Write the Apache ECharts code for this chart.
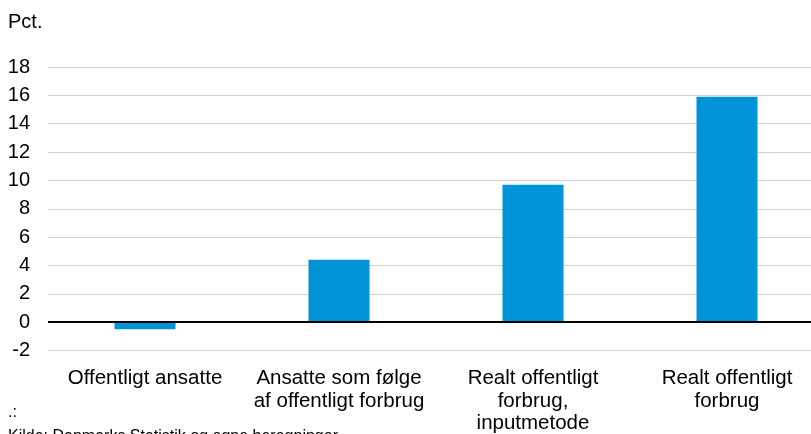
<!DOCTYPE html>
<html>
<head>
<meta charset="utf-8">
<script src="https://cdn.jsdelivr.net/npm/echarts@6/dist/echarts.min.js"></script>
<style>html,body{margin:0;padding:0;background:#fff}#c{width:811px;height:434px}</style>
</head>
<body>
<div id="c"></div>
<script>
var categories = ['Offentligt ansatte', 'Ansatte som følge\naf offentligt forbrug', 'Realt offentligt\nforbrug,\ninputmetode', 'Realt offentligt\nforbrug'];
var values = [-0.5, 4.4, 9.7, 15.9];
var unitLabel = 'Pct.';
var noteText = '.:';
var sourceText = 'Kilde: Danmarks Statistik og egne beregninger';

var chart = echarts.init(document.getElementById('c'), null, {renderer: 'canvas'});
var font = 'Arial, "Liberation Sans", sans-serif';
chart.setOption({
  animation: false,
  backgroundColor: '#fff',
  grid: {left: 48, width: 776, top: 67, bottom: 83.5, containLabel: false, outerBoundsMode: 'none'},
  xAxis: {
    type: 'category',
    data: categories,
    position: 'bottom',
    axisLine: {show: false, onZero: false},
    axisTick: {show: false},
    axisLabel: {color: '#000', fontSize: 20.5, fontFamily: font, lineHeight: 22.5, margin: 17, interval: 0}
  },
  yAxis: {
    type: 'value',
    min: -2, max: 18, interval: 2,
    axisLine: {show: false},
    axisTick: {show: false},
    axisLabel: {color: '#000', fontSize: 20, fontFamily: font, margin: 18},
    splitLine: {lineStyle: {color: '#d0d0d0', width: 1}}
  },
  series: [{
    type: 'bar',
    data: values,
    barWidth: 61,
    itemStyle: {color: '#0093D6'},
    markLine: {
      silent: true,
      symbol: 'none',
      label: {show: false},
      lineStyle: {color: '#000', width: 2, type: 'solid'},
      data: [{yAxis: 0}]
    }
  }],
  graphic: [
    {type: 'text', left: 8, top: 12, style: {text: unitLabel, fontSize: 20, fontFamily: font, fill: '#000'}},
    {type: 'text', left: 8, top: 405, style: {text: noteText, fontSize: 16, fontFamily: font, fill: '#000'}},
    {type: 'text', left: 8, top: 429, style: {text: sourceText, fontSize: 16, fontFamily: font, fill: '#000'}}
  ]
});
</script>
</body>
</html>
